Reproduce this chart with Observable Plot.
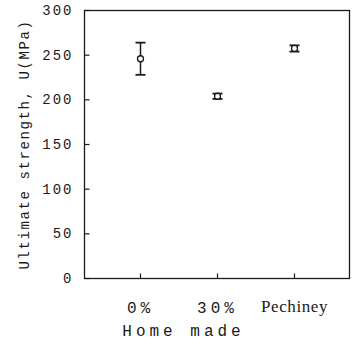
<!DOCTYPE html>
<html>
<head>
<meta charset="utf-8">
<script src="https://cdn.jsdelivr.net/npm/d3@7"></script>
<script src="https://cdn.jsdelivr.net/npm/@observablehq/plot@0.6"></script>
<style>
  html, body { margin: 0; padding: 0; background: #fff; }
  #chart { width: 352px; height: 343px; }
</style>
</head>
<body>
<div id="chart"></div>
<script>
// ---- data ----
const categories = ["0%", "30%", "Pechiney"];
const means = [246, 204, 257.5];
const lower = [228, 201, 254];
const upper = [264, 207, 261];
const yTicks = [0, 50, 100, 150, 200, 250, 300];
const monoTicks = ["0%", "30%"];
const serifTicks = ["Pechiney"];
const groupLabel = "Home made";
const yLabel = "Ultimate strength, U(MPa)";

const data = categories.map((c, i) => ({cat: c, mean: means[i], lo: lower[i], hi: upper[i]}));

const ink = "#1a1a1a";
const half = (size) => Math.sqrt(size / Math.PI);
const capSymbol = {draw(ctx, size) { const h = half(size); ctx.moveTo(-h, 0); ctx.lineTo(h, 0); }};
const tickRight = {draw(ctx, size) { const h = half(size); ctx.moveTo(0, 0); ctx.lineTo(h, 0); }};
const tickUp = {draw(ctx, size) { const h = half(size); ctx.moveTo(0, 0); ctx.lineTo(0, -h); }};

const chart = Plot.plot({
  width: 352,
  height: 343,
  marginLeft: 84,
  marginRight: 3,
  marginTop: 10,
  marginBottom: 65,
  style: {fontFamily: "'Liberation Mono', monospace", color: ink, background: "#fff"},
  x: {type: "point", domain: categories, padding: 0.7},
  y: {domain: [0, 300]},
  marks: [
    Plot.frame({stroke: ink, strokeWidth: 1.3}),
    // inward ticks
    Plot.dot(yTicks, {y: d => d, frameAnchor: "left", symbol: tickRight, r: 5, stroke: ink, strokeWidth: 1.2}),
    Plot.dot(categories, {x: d => d, frameAnchor: "bottom", symbol: tickUp, r: 5, stroke: ink, strokeWidth: 1.2}),
    // tick labels
    Plot.axisY(yTicks, {tickSize: 0, tickPadding: 11, fontSize: 14, fill: ink,
      label: yLabel, labelAnchor: "center", labelArrow: "none", labelOffset: 65}),
    Plot.axisX(monoTicks, {tickSize: 0, tickPadding: 23, fontSize: 16, fill: ink, label: null}),
    Plot.axisX(serifTicks, {tickSize: 0, tickPadding: 21, fontSize: 17, fill: ink, label: null,
      fontFamily: "'Liberation Serif', serif"}),
    // group label under the first two categories
    Plot.text([groupLabel], {x: () => monoTicks[0], text: d => d, frameAnchor: "bottom",
      dx: 43, dy: 52, fontSize: 16, fill: ink, lineAnchor: "middle"}),
    // error bars
    Plot.ruleX(data, {x: "cat", y1: "lo", y2: "hi", stroke: ink, strokeWidth: 1.5}),
    Plot.dot(data, {x: "cat", y: "hi", symbol: capSymbol, r: 5, stroke: ink, strokeWidth: 1.8}),
    Plot.dot(data, {x: "cat", y: "lo", symbol: capSymbol, r: 5, stroke: ink, strokeWidth: 1.8}),
    Plot.dot(data, {x: "cat", y: "mean", r: 3, stroke: ink, fill: "#fff", strokeWidth: 1.3})
  ]
});

document.getElementById("chart").appendChild(chart);

// letter spacing to mimic the typewriter face
const svg = d3.select(chart);
svg.selectAll('g[aria-label="y-axis tick label"] text').style("letter-spacing", "2px");
svg.selectAll('g[aria-label="x-axis tick label"] text')
  .style("letter-spacing", function () { return serifTicks.includes(this.textContent) ? "0.6px" : "4px"; });
svg.selectAll('g[aria-label="y-axis label"] text').style("letter-spacing", "1.6px");
svg.selectAll('g[aria-label="text"] text').style("letter-spacing", "4px");
</script>
</body>
</html>
